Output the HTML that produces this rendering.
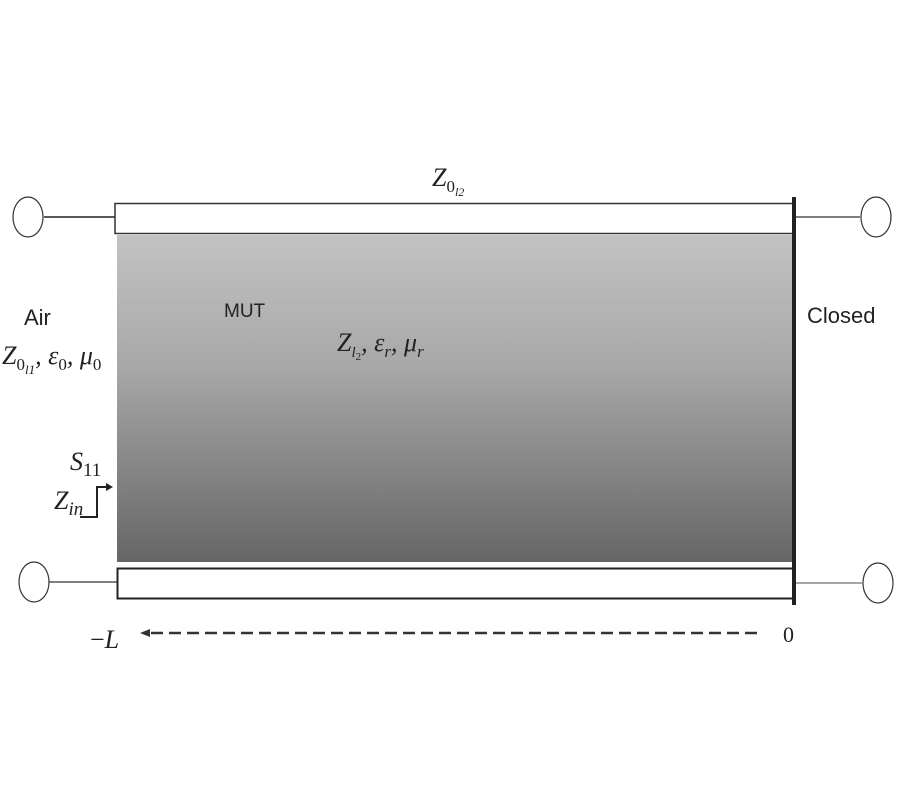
<!DOCTYPE html>
<html><head><meta charset="utf-8"><style>
body{margin:0;background:#fff;width:900px;height:800px;overflow:hidden}
</style></head><body>
<svg width="900" height="800" xmlns="http://www.w3.org/2000/svg">
<defs><linearGradient id="g" x1="0" y1="0" x2="0" y2="1">
<stop offset="0" stop-color="#c2c2c2"/><stop offset="0.4" stop-color="#a8a8a8"/><stop offset="1" stop-color="#666"/></linearGradient></defs>
<rect x="117" y="235" width="676" height="327" fill="url(#g)"/>
<rect x="115" y="203.5" width="679" height="30" fill="#fff" stroke="#333" stroke-width="1.5"/>
<rect x="117.5" y="568.5" width="677" height="30" fill="#fff" stroke="#222" stroke-width="2"/>
<line x1="794" y1="197" x2="794" y2="605" stroke="#222" stroke-width="4"/>
<ellipse cx="28" cy="217" rx="15" ry="20" fill="#fff" stroke="#333" stroke-width="1.2"/>
<line x1="44" y1="217" x2="115" y2="217" stroke="#222" stroke-width="1.5"/>
<ellipse cx="34" cy="582" rx="15" ry="20" fill="#fff" stroke="#333" stroke-width="1.2"/>
<line x1="49" y1="582" x2="117" y2="582" stroke="#333" stroke-width="1.2"/>
<ellipse cx="876" cy="217" rx="15" ry="20" fill="#fff" stroke="#333" stroke-width="1.2"/>
<line x1="796" y1="217" x2="860" y2="217" stroke="#555" stroke-width="1.5"/>
<ellipse cx="878" cy="583" rx="15" ry="20" fill="#fff" stroke="#333" stroke-width="1.2"/>
<line x1="796" y1="583" x2="863" y2="583" stroke="#888" stroke-width="1.5"/>
<line x1="757" y1="633" x2="150" y2="633" stroke="#333" stroke-width="2.5" stroke-dasharray="12,6"/>
<polygon points="140,633 150,629 150,637" fill="#333"/>
<polyline points="80,517 97,517 97,487 108,487" fill="none" stroke="#222" stroke-width="2"/>
<polygon points="113,487 106,483 106,491" fill="#222"/>
<g font-family="Liberation Serif, serif" font-style="italic" fill="#222" font-size="26">
<text x="432" y="186">Z<tspan font-size="17" dy="6" font-style="normal">0</tspan><tspan font-size="12" dy="4">l2</tspan></text>
<text x="2" y="364">Z<tspan font-size="17" dy="6" font-style="normal">0</tspan><tspan font-size="13" dy="4">l1</tspan><tspan dy="-10">, ε</tspan><tspan font-size="17" dy="6" font-style="normal">0</tspan><tspan dy="-6">, μ</tspan><tspan font-size="17" dy="6" font-style="normal">0</tspan></text>
<text x="337" y="351">Z<tspan font-size="15" dy="6">l</tspan><tspan font-size="11" dy="3" font-style="normal">2</tspan><tspan dy="-9">, ε</tspan><tspan font-size="17" dy="6">r</tspan><tspan dy="-6">, μ</tspan><tspan font-size="17" dy="6">r</tspan></text>
<text x="70" y="470">S<tspan font-size="19" dy="6" font-style="normal">11</tspan></text>
<text x="54" y="509">Z<tspan font-size="19" dy="6">in</tspan></text>
<text x="90" y="648" font-style="normal">−<tspan font-style="italic">L</tspan></text>
<text x="783" y="642" font-style="normal" font-size="22">0</text>
</g>
<g font-family="Liberation Sans, sans-serif" fill="#222" font-size="22">
<text x="24" y="325">Air</text>
<text x="224" y="317" font-size="19">MUT</text>
<text x="807" y="323">Closed</text>
</g>
</svg>
</body></html>
